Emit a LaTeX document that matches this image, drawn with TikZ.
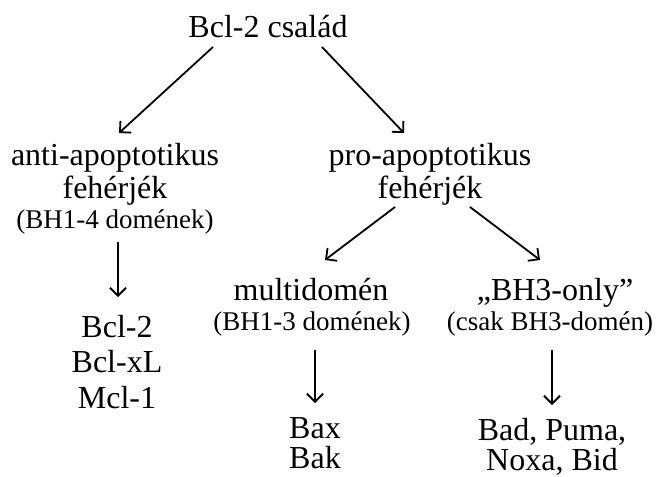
\documentclass[tikz,border=0pt]{standalone}
\usepackage{fontspec}
\setmainfont{Liberation Serif}
\usetikzlibrary{arrows.meta}
\begin{document}
\begin{tikzpicture}[x=1pt,y=-1pt,
  big/.style={font=\fontsize{32}{38}\selectfont, anchor=base, inner sep=0pt},
  small/.style={font=\fontsize{27}{32}\selectfont, anchor=base, inner sep=0pt},
  arr/.style={line width=1.8pt, -{Straight Barb[length=8pt,width=16pt,line width=1.8pt]}}]
\useasboundingbox (0,0) rectangle (657,477);
% text
\node[big] (title) at (268,37) {Bcl-2 család};
\node[big] (anti) at (115,165) {anti-apoptotikus};
\node[big] (feh1) at (115,198) {fehérjék};
\node[small] (bh14) at (115,228) {(BH1-4 domének)};
\node[big] (pro) at (430,165) {pro-apoptotikus};
\node[big] (feh2) at (430,198) {fehérjék};
\node[big] (multi) at (311,300) {multidomén};
\node[small] (bh13) at (312,330) {(BH1-3 domének)};
\node[big] (bh3) at (555,300) {„BH3-only”};
\node[small] (csak) at (550,330) {(csak BH3-domén)};
\node[big] (bcl2) at (117,337) {Bcl-2};
\node[big] (bclxl) at (117,372) {Bcl-xL};
\node[big] (mcl1) at (117,408) {Mcl-1};
\node[big] (bax) at (315,438) {Bax};
\node[big] (bak) at (315,468) {Bak};
\node[big] (bad) at (552,440) {Bad, Puma,};
\node[big] (noxa) at (552,470) {Noxa, Bid};
% arrow end points
\coordinate (t1) at (213,47);  \coordinate (h1) at (119,133);
\coordinate (t2) at (322,47);  \coordinate (h2) at (404,133);
\coordinate (t3) at (118,242); \coordinate (h3) at (118,297);
\coordinate (t4) at (395,207); \coordinate (h4) at (325,260);
\coordinate (t5) at (470,207); \coordinate (h5) at (540,260);
\coordinate (t6) at (315,350); \coordinate (h6) at (315,403);
\coordinate (t7) at (552,350); \coordinate (h7) at (552,405);
\draw[arr] (t1) -- (h1);
\draw[arr] (t2) -- (h2);
\draw[arr] (t3) -- (h3);
\draw[arr] (t4) -- (h4);
\draw[arr] (t5) -- (h5);
\draw[arr] (t6) -- (h6);
\draw[arr] (t7) -- (h7);
\end{tikzpicture}
\end{document}
